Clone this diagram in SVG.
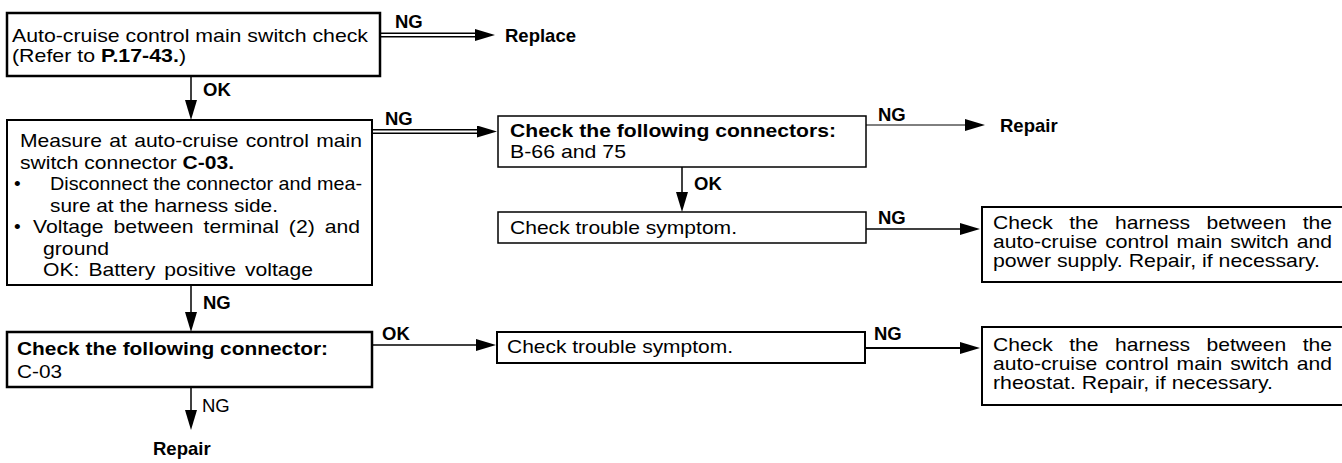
<svg xmlns="http://www.w3.org/2000/svg" width="1342" height="463" viewBox="0 0 1342 463">
<style>
.box{fill:#fff;stroke:#000;stroke-width:2}
.thin{stroke-width:1.5}
.thick{stroke-width:2.5}
.t{font-family:"Liberation Sans",Arial,Helvetica,sans-serif;font-size:19px;fill:#000}
.b{font-weight:bold}
.lbl{font-family:"Liberation Sans",Arial,Helvetica,sans-serif;font-size:18.5px;font-weight:bold;fill:#000}
.reg{font-weight:normal}
.conn{fill:none;stroke:#000;stroke-width:1.5}
.c1{stroke-width:1}
.c2{stroke-width:2}
.dblo{fill:none;stroke:#000;stroke-width:5}
.dbli{fill:none;stroke:#fff;stroke-width:1.8}
</style>
<defs>
<marker id="ah" viewBox="0 0 20 12" refX="0" refY="6" markerWidth="20" markerHeight="12" markerUnits="userSpaceOnUse" orient="auto">
<path d="M0,0 L20,6 L0,12 z" fill="#000"/>
</marker>
</defs>

<g id="connectors">
<path class="dblo" d="M380 35 H475" marker-end="url(#ah)"/>
<path class="dbli" d="M381 35 H475"/>
<path class="conn" d="M191 76 V100" marker-end="url(#ah)"/>
<path class="dblo" d="M372 131.5 H477" marker-end="url(#ah)"/>
<path class="dbli" d="M373 131.5 H477"/>
<path class="conn c1" d="M866 125 H965" marker-end="url(#ah)"/>
<path class="conn" d="M682 167 V192" marker-end="url(#ah)"/>
<path class="conn" d="M866 229 H960" marker-end="url(#ah)"/>
<path class="conn" d="M191 285 V312" marker-end="url(#ah)"/>
<path class="conn" d="M372 345 H476" marker-end="url(#ah)"/>
<path class="conn c2" d="M865 348 H960" marker-end="url(#ah)"/>
<path class="conn" d="M191 387 V410" marker-end="url(#ah)"/>
<text class="lbl" x="395" y="28">NG</text>
<text class="lbl" x="203" y="96">OK</text>
<text class="lbl" x="385" y="125">NG</text>
<text class="lbl" x="878" y="121">NG</text>
<text class="lbl" x="694" y="190">OK</text>
<text class="lbl" x="878" y="224">NG</text>
<text class="lbl" x="203" y="309">NG</text>
<text class="lbl" x="382" y="340">OK</text>
<text class="lbl" x="874" y="340">NG</text>
<text class="lbl reg" x="202" y="412">NG</text>
</g>

<g id="n-main-switch-check">
<rect class="box thick" x="7" y="13" width="373" height="63"/>
<text class="t" x="12" y="42" textLength="356" lengthAdjust="spacingAndGlyphs">Auto-cruise control main switch check</text>
<text class="t" x="12" y="62" textLength="174" lengthAdjust="spacingAndGlyphs">(Refer to <tspan class="b">P.17-43.</tspan>)</text>
</g>

<g id="n-replace">
<text class="lbl" x="505" y="42">Replace</text>
</g>

<g id="n-measure">
<rect class="box" x="7" y="120" width="365" height="165"/>
<text class="t" x="20" y="147" textLength="342" lengthAdjust="spacingAndGlyphs" word-spacing="1.3">Measure at auto-cruise control main</text>
<text class="t" x="20" y="168.5" textLength="214" lengthAdjust="spacingAndGlyphs">switch connector <tspan class="b">C-03.</tspan></text>
<text class="t" x="14" y="190">•</text>
<text class="t" x="50" y="190" textLength="312" lengthAdjust="spacingAndGlyphs">Disconnect the connector and mea-</text>
<text class="t" x="50" y="211.5" textLength="228" lengthAdjust="spacingAndGlyphs">sure at the harness side.</text>
<text class="t" x="14" y="233">•</text>
<text class="t" x="33" y="233" textLength="327" lengthAdjust="spacingAndGlyphs" word-spacing="3.7">Voltage between terminal (2) and</text>
<text class="t" x="43" y="254.5" textLength="66" lengthAdjust="spacingAndGlyphs">ground</text>
<text class="t" x="43" y="276" textLength="270" lengthAdjust="spacingAndGlyphs" word-spacing="2.9">OK: Battery positive voltage</text>
</g>

<g id="n-check-b66">
<rect class="box thin" x="498" y="116" width="368" height="51"/>
<text class="t b" x="510" y="137" textLength="326" lengthAdjust="spacingAndGlyphs">Check the following connectors:</text>
<text class="t" x="510" y="158" textLength="116" lengthAdjust="spacingAndGlyphs">B-66 and 75</text>
</g>

<g id="n-repair-1">
<text class="lbl" x="1000" y="132">Repair</text>
</g>

<g id="n-symptom-1">
<rect class="box thin" x="498" y="212" width="368" height="31"/>
<text class="t" x="510" y="234" textLength="227" lengthAdjust="spacingAndGlyphs">Check trouble symptom.</text>
</g>

<g id="n-harness-power">
<rect class="box" x="982" y="207" width="372" height="75"/>
<text class="t" x="993" y="229" textLength="339" lengthAdjust="spacingAndGlyphs" word-spacing="9.5">Check the harness between the</text>
<text class="t" x="993" y="248" textLength="339" lengthAdjust="spacingAndGlyphs" word-spacing="1.9">auto-cruise control main switch and</text>
<text class="t" x="993" y="267" textLength="327" lengthAdjust="spacingAndGlyphs">power supply. Repair, if necessary.</text>
</g>

<g id="n-check-c03">
<rect class="box thick" x="7" y="332" width="365" height="55"/>
<text class="t b" x="17" y="355" textLength="311" lengthAdjust="spacingAndGlyphs">Check the following connector:</text>
<text class="t" x="17" y="378" textLength="45" lengthAdjust="spacingAndGlyphs">C-03</text>
</g>

<g id="n-symptom-2">
<rect class="box" x="497" y="332" width="368" height="31"/>
<text class="t" x="507" y="353" textLength="226" lengthAdjust="spacingAndGlyphs">Check trouble symptom.</text>
</g>

<g id="n-harness-rheostat">
<rect class="box" x="982" y="327" width="372" height="78"/>
<text class="t" x="993" y="351" textLength="339" lengthAdjust="spacingAndGlyphs" word-spacing="9.5">Check the harness between the</text>
<text class="t" x="993" y="370" textLength="339" lengthAdjust="spacingAndGlyphs" word-spacing="1.9">auto-cruise control main switch and</text>
<text class="t" x="993" y="389" textLength="280" lengthAdjust="spacingAndGlyphs">rheostat. Repair, if necessary.</text>
</g>

<g id="n-repair-2">
<text class="lbl" x="153" y="455">Repair</text>
</g>
</svg>
